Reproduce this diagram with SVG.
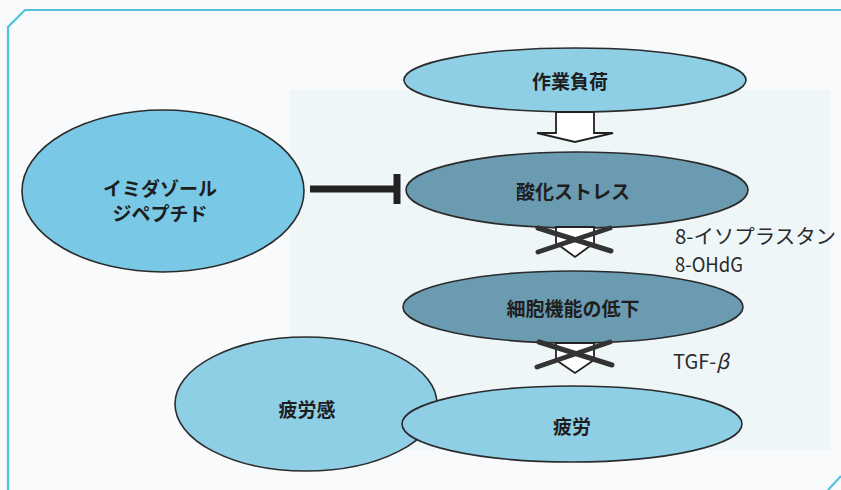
<svg xmlns="http://www.w3.org/2000/svg" width="841" height="490" viewBox="0 0 841 490">
<defs>
<style>
.light{fill:#8fcfe6;stroke:#2b2b2b;stroke-width:1.6}
.bright{fill:#79c9e6;stroke:#2b2b2b;stroke-width:1.6}
.dark{fill:#6b9bb1;stroke:#2b2b2b;stroke-width:1.6}
.lbl{font-family:"Noto Sans CJK JP","Noto Sans",sans-serif;font-weight:bold;font-size:19px;fill:#1e1e1e;text-anchor:middle;dominant-baseline:central}
.side{font-family:"Noto Sans CJK JP","Noto Sans",sans-serif;font-size:20px;fill:#2a2a2a;dominant-baseline:central}
.hollow{fill:#ffffff;stroke:#222;stroke-width:1.8;stroke-linejoin:miter}
.cross{stroke:#333;stroke-width:5;stroke-linecap:round}
.frame{fill:none;stroke:#4fc3dc;stroke-width:2.2}
</style>
</defs>
<rect width="841" height="490" fill="#f8fafb"/>
<rect x="290" y="90" width="540" height="360" fill="#eef6f8"/>
<path class="frame" d="M8,490 L8,27 L25,10 L841,10"/>
<path class="frame" d="M828,490 L841,476"/>

<g id="node-sagyou">
<ellipse class="light" cx="575" cy="80" rx="171" ry="32"/>
<text class="lbl" x="570" y="80">作業負荷</text>
</g>
<g id="node-sanka">
<ellipse class="dark" cx="577" cy="190" rx="171" ry="38"/>
<text class="lbl" x="573" y="190">酸化ストレス</text>
</g>
<g id="node-imidazole">
<ellipse class="bright" cx="163" cy="191" rx="141" ry="81"/>
<text class="lbl" x="160" y="187">イミダゾール</text>
<text class="lbl" x="160" y="212">ジペプチド</text>
</g>
<g id="node-saibou">
<ellipse class="dark" cx="573" cy="307" rx="170" ry="36"/>
<text class="lbl" x="573" y="307">細胞機能の低下</text>
</g>
<g id="node-hiroukan">
<ellipse class="light" cx="306" cy="404" rx="131" ry="67"/>
<text class="lbl" x="307" y="408">疲労感</text>
</g>
<g id="node-hirou">
<ellipse class="light" cx="572" cy="424" rx="170" ry="38"/>
<text class="lbl" x="572" y="425">疲労</text>
</g>

<g id="connectors">
<polygon class="hollow" points="556,112 594,112 594,133 613,133 575,142 537,133 556,133"/>
<line x1="310" y1="189" x2="396" y2="189" stroke="#222" stroke-width="7"/>
<line x1="397" y1="174" x2="397" y2="204" stroke="#222" stroke-width="7"/>
<polygon class="hollow" points="556,227 594,227 594,243 575,257 556,243"/>
<line class="cross" x1="538" y1="228" x2="611" y2="251"/>
<line class="cross" x1="610" y1="228" x2="538" y2="252"/>
<polygon class="hollow" points="556,343 594,343 594,360 575,373 556,360"/>
<line class="cross" x1="539" y1="342" x2="612" y2="365"/>
<line class="cross" x1="610" y1="342" x2="537" y2="367"/>
</g>

<g id="labels">
<text class="side" x="675" y="235" textLength="161" lengthAdjust="spacingAndGlyphs">8-イソプラスタン</text>
<text class="side" x="675" y="263" textLength="68" lengthAdjust="spacingAndGlyphs">8-OHdG</text>
<text class="side" x="673" y="360">TGF-<tspan font-style="italic">β</tspan></text>
</g>
</svg>
